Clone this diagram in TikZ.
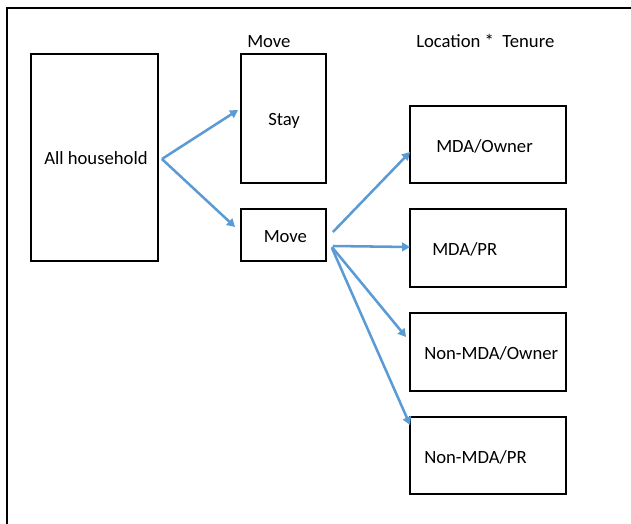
\documentclass[tikz,border=0pt]{standalone}
\usepackage{fontspec}
\setmainfont{Carlito}
\usetikzlibrary{arrows.meta}
\definecolor{arrblue}{RGB}{91,155,213}
\begin{document}
\begin{tikzpicture}[x=0.75pt,y=-0.75pt,
  box/.style={draw=black,line width=1.4pt,fill=white,inner sep=0pt},
  lbl/.style={inner sep=0pt,anchor=base west,font=\fontsize{14}{16}\selectfont},
  arr/.style={draw=arrblue,line width=1.9pt,-{Triangle[length=6pt,width=6.5pt]}}]
\useasboundingbox (0,0) rectangle (631,524);
\draw[line width=1.6pt] (7,530) -- (7,8) -- (640,8);
% boxes
\node[box,minimum width=127*0.75pt,minimum height=207*0.75pt] (all) at (94.5,157.5) {};
\node[box,minimum width=85*0.75pt,minimum height=129*0.75pt] (stay) at (283.5,118.5) {};
\node[box,minimum width=85*0.75pt,minimum height=52*0.75pt] (move) at (283.5,235) {};
\node[box,minimum width=156*0.75pt,minimum height=77*0.75pt] (mo) at (488,144.5) {};
\node[box,minimum width=156*0.75pt,minimum height=78*0.75pt] (mp) at (488,248) {};
\node[box,minimum width=156*0.75pt,minimum height=78*0.75pt] (no) at (488,352) {};
\node[box,minimum width=156*0.75pt,minimum height=77*0.75pt] (np) at (488,455.5) {};
% texts
\node[lbl] (hmove) at (247,48) {Move};
\node[lbl] (hloc) at (416,48) {Location *\ \ Tenure};
\node[lbl] (tall) at (44,164) {All household};
\node[lbl] (tstay) at (268,126) {Stay};
\node[lbl] (tmove) at (263.5,242) {Move};
\node[lbl] (tmo) at (436,152) {MDA/Owner};
\node[lbl] (tmp) at (432,255) {MDA/PR};
\node[lbl] (tno) at (424,359) {Non-MDA/Owner};
\node[lbl] (tnp) at (424,463) {Non-MDA/PR};
% arrows
\draw[arr] ([shift={(3,1.5)}]all.east) -- ([shift={(-2,-8.5)}]stay.west);
\draw[arr] ([shift={(3,1.5)}]all.east) -- ([shift={(-5,-8)}]move.west);
\draw[arr] ([shift={(6,-3)}]move.east) -- ([shift={(1,7.5)}]mo.west);
\draw[arr] ([shift={(6,11)}]move.east) -- ([shift={(1,-1)}]mp.west);
\draw[arr] ([shift={(5,12)}]move.east) -- ([shift={(-3,-15)}]no.west);
\draw[arr] ([shift={(5,13)}]move.east) -- ([shift={(1,-30.5)}]np.west);
\end{tikzpicture}
\end{document}
